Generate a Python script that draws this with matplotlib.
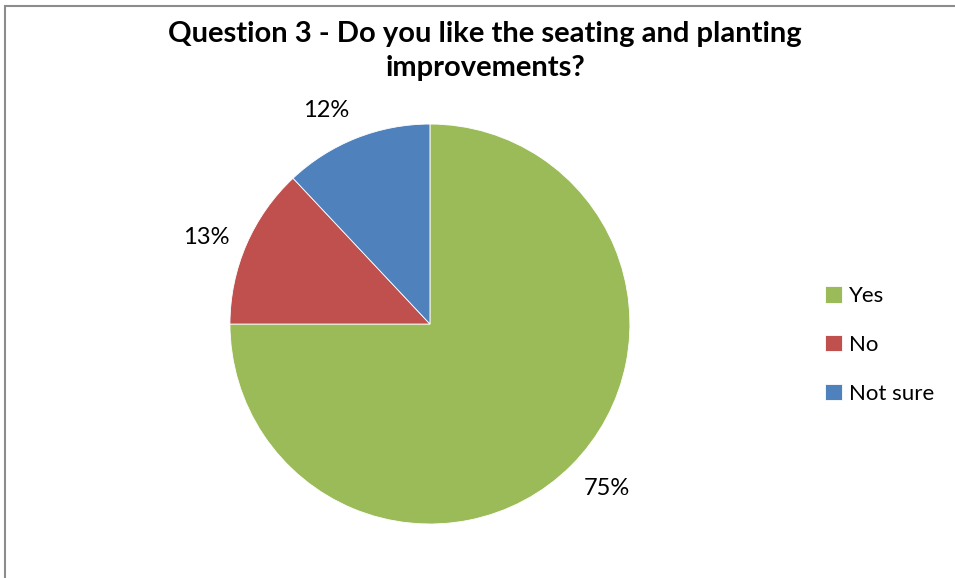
import matplotlib
matplotlib.use('Agg')
import numpy as np
from matplotlib import pyplot as plt
from matplotlib.patches import Rectangle

# chart data
categories = ['Yes', 'No', 'Not sure']
values = [75, 13, 12]
colors = ['#9BBB59', '#C0504D', '#4F81BD']

plt.rcParams['font.family'] = ['Lato', 'DejaVu Sans']

fig = plt.figure(figsize=(9.55, 5.78), dpi=100)

# grey frame round the chart (left and top edges visible)
fig.patches.append(Rectangle((5 / 955, -0.05), 1.1, 1 - 6 / 578 + 0.05,
                             transform=fig.transFigure, fill=False,
                             edgecolor='#8c8c8c', linewidth=1.5))

ax = fig.add_axes([0.2408, 0.0934, 0.4188, 0.692])
wedges, texts, autotexts = ax.pie(values, colors=colors, startangle=90, counterclock=False,
                                  autopct='%1.0f%%',
                                  wedgeprops=dict(edgecolor='white', linewidth=0.6))

# excel style: put the near corner of each label just outside the slice
for w, t in zip(wedges, autotexts):
    ang = np.deg2rad((w.theta1 + w.theta2) / 2)
    c, s = np.cos(ang), np.sin(ang)
    t.set_position((1.09 * c, 1.09 * s))
    t.set_ha('left' if c > 0 else 'right')
    if abs(s) < 0.5:
        t.set_va('center')
    else:
        t.set_va('bottom' if s > 0 else 'top')
    t.set_fontsize(17)
    t.set_color('black')

ax.set_xlim(-1, 1)
ax.set_ylim(-1, 1)
ax.set_aspect('equal')

fig.text(485 / 955, 1 - 51 / 578, 'Question 3 - Do you like the seating and planting\nimprovements?',
         ha='center', va='center', fontsize=21, fontweight='bold', linespacing=1.4)

fig.legend(wedges, categories, loc='center left', bbox_to_anchor=(805 / 955, 1 - 345 / 578),
           frameon=False, fontsize=16, handlelength=0.75, handleheight=0.75,
           handletextpad=0.35, labelspacing=1.3)

plt.savefig('out.png', dpi=100)
